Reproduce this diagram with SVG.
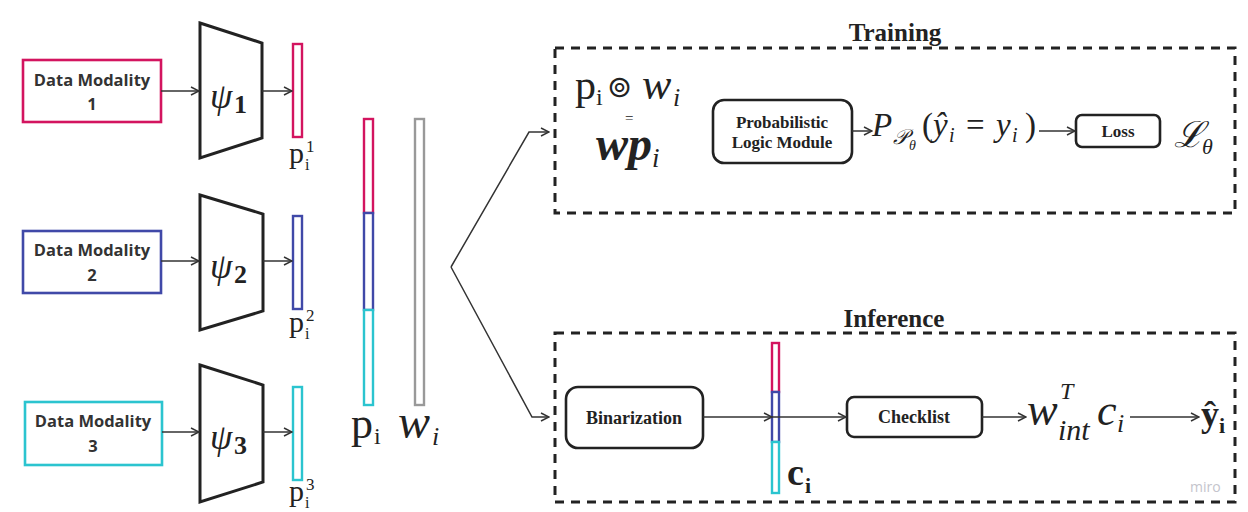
<svg xmlns="http://www.w3.org/2000/svg" width="1248" height="512" viewBox="0 0 1248 512">
<defs>
<marker id="arr" viewBox="0 0 10 10" refX="9" refY="5" markerWidth="10" markerHeight="10" markerUnits="userSpaceOnUse" orient="auto">
<path d="M1,1 L9,5 L1,9" fill="none" stroke="#333" stroke-width="1.5"/>
</marker>
</defs>
<style>
.dm{fill:#fff;stroke-width:2.6}
.mag{stroke:#d3145f}
.blu{stroke:#4049a8}
.cya{stroke:#2bc4cf}
.gry{stroke:#999}
.bar{fill:#fff;stroke-width:2.4}
.trap{fill:#fff;stroke:#222;stroke-width:3}
.dmt{font-family:"Open Sans","DejaVu Sans",sans-serif;font-weight:700;font-size:16.5px;fill:#333;text-anchor:middle}
.math{font-family:"Liberation Serif","DejaVu Serif",serif;fill:#222}
.it{font-style:italic}
.bf{font-weight:700}
.dash{fill:none;stroke:#222;stroke-width:3;stroke-dasharray:9 7}
.rb{fill:#fff;stroke:#222;stroke-width:2.6}
.lbl{font-family:"Liberation Serif","DejaVu Serif",serif;font-weight:700;fill:#222;text-anchor:middle}
.con{fill:none;stroke:#333;stroke-width:1.5}
</style>
<rect width="1248" height="512" fill="#fff"/>

<g id="modality1">
<rect class="dm mag" x="23" y="60" width="138" height="62"/>
<text class="dmt" x="92" y="86">Data Modality</text>
<text class="dmt" x="92" y="110">1</text>
</g>
<g id="modality2">
<rect class="dm blu" x="23" y="231" width="138" height="62"/>
<text class="dmt" x="92" y="256">Data Modality</text>
<text class="dmt" x="92" y="281">2</text>
</g>
<g id="modality3">
<rect class="dm cya" x="25" y="402" width="137" height="63"/>
<text class="dmt" x="93" y="427">Data Modality</text>
<text class="dmt" x="93" y="452">3</text>
</g>

<g id="encoder1">
<polygon class="trap" points="200,23 262,43 262,138 200,158"/>
<text class="math" y="108"><tspan class="it" x="210" font-size="36">ψ</tspan><tspan class="bf" x="234" y="113" font-size="26">1</tspan></text>
</g>
<g id="encoder2">
<polygon class="trap" points="200,195 263,214 263,311 200,330"/>
<text class="math" y="278"><tspan class="it" x="210" font-size="36">ψ</tspan><tspan class="bf" x="234" y="283" font-size="26">2</tspan></text>
</g>
<g id="encoder3">
<polygon class="trap" points="200,365 263,385 263,482 200,502"/>
<text class="math" y="449"><tspan class="it" x="210" font-size="36">ψ</tspan><tspan class="bf" x="234" y="454" font-size="26">3</tspan></text>
</g>

<g id="p1">
<rect class="bar mag" x="293" y="44" width="9" height="93"/>
<text class="math"><tspan x="289" y="163" font-size="30">p</tspan><tspan x="305" y="170" font-size="16">i</tspan><tspan x="306" y="152" font-size="17">1</tspan></text>
</g>
<g id="p2">
<rect class="bar blu" x="293" y="216" width="9" height="93"/>
<text class="math"><tspan x="289" y="332" font-size="30">p</tspan><tspan x="305" y="339" font-size="16">i</tspan><tspan x="306" y="321" font-size="17">2</tspan></text>
</g>
<g id="p3">
<rect class="bar cya" x="293" y="387" width="9" height="93"/>
<text class="math"><tspan x="289" y="501" font-size="30">p</tspan><tspan x="305" y="508" font-size="16">i</tspan><tspan x="306" y="490" font-size="17">3</tspan></text>
</g>

<g id="pi">
<rect class="bar mag" x="364" y="119" width="9" height="94"/>
<rect class="bar blu" x="364" y="213" width="9" height="97"/>
<rect class="bar cya" x="364" y="310" width="9" height="95"/>
<text class="math"><tspan x="351" y="438" font-size="44">p</tspan><tspan x="374" y="444" font-size="24">i</tspan></text>
</g>
<g id="wi">
<rect class="bar gry" x="415" y="119" width="9" height="286"/>
<text class="math it"><tspan x="398" y="438" font-size="48">w</tspan><tspan x="432" y="445" font-size="26">i</tspan></text>
</g>

<g id="training">
<rect class="dash" x="555" y="48" width="680" height="165"/>
<text class="lbl" x="895" y="41" font-size="25">Training</text>
</g>
<g id="product">
<text class="math"><tspan x="575" y="99" font-size="42">p</tspan><tspan x="596" y="105" font-size="24">i</tspan><tspan x="607" y="97" font-size="30" font-family="DejaVu Sans">⊚</tspan><tspan class="it" x="642" y="99" font-size="44">w</tspan><tspan class="it" x="673" y="106" font-size="26">i</tspan><tspan x="625" y="123" font-size="15">=</tspan></text>
<text class="math it bf"><tspan x="596" y="160" font-size="48">wp</tspan><tspan x="652" y="167" font-size="27" font-weight="400">i</tspan></text>
</g>
<g id="plm">
<rect class="rb" x="713" y="100" width="139" height="63" rx="11"/>
<text class="lbl" x="782" y="128" font-size="17">Probabilistic</text>
<text class="lbl" x="782" y="148" font-size="17">Logic Module</text>
</g>
<g id="prob">
<text class="math"><tspan class="it" x="872" y="136" font-size="33">P</tspan><tspan class="it" x="893" y="144" font-size="21" font-family="DejaVu Serif">𝒫</tspan><tspan class="it" x="909" y="150" font-size="14">θ</tspan><tspan x="922" y="136" font-size="33">(</tspan><tspan class="it" x="933" y="136" font-size="33">ŷ</tspan><tspan class="it" x="949" y="142" font-size="20">i</tspan><tspan x="966" y="136" font-size="33">=</tspan><tspan class="it" x="996" y="136" font-size="33">y</tspan><tspan class="it" x="1012" y="142" font-size="20">i</tspan><tspan x="1025" y="136" font-size="33">)</tspan></text>
</g>
<g id="loss">
<rect class="rb" x="1076" y="115" width="84" height="32" rx="6"/>
<text class="lbl" x="1118" y="137" font-size="17">Loss</text>
</g>
<g id="lossval">
<text class="math"><tspan x="1174" y="147" font-size="36" font-family="DejaVu Serif" font-style="italic">ℒ</tspan><tspan class="it" x="1202" y="154" font-size="22">θ</tspan></text>
</g>

<g id="inference">
<rect class="dash" x="555" y="333" width="680" height="169"/>
<text class="lbl" x="894" y="327" font-size="25">Inference</text>
</g>
<g id="binarization">
<rect class="rb" x="566" y="387" width="137" height="61" rx="12"/>
<text class="lbl" x="634" y="424" font-size="18">Binarization</text>
</g>
<g id="ci">
<rect class="bar mag" x="772" y="343" width="7" height="49"/>
<rect class="bar blu" x="772" y="392" width="7" height="50"/>
<rect class="bar cya" x="772" y="442" width="7" height="51"/>
<text class="math bf"><tspan x="787" y="485" font-size="38">c</tspan><tspan x="805" y="493" font-size="22">i</tspan></text>
</g>
<g id="checklist">
<rect class="rb" x="847" y="397" width="135" height="40" rx="7"/>
<text class="lbl" x="914" y="423" font-size="18">Checklist</text>
</g>
<g id="score">
<text class="math it"><tspan x="1027" y="425" font-size="46">w</tspan><tspan x="1060" y="399" font-size="24">T</tspan><tspan x="1058" y="440" font-size="30">int</tspan><tspan x="1097" y="425" font-size="44">c</tspan><tspan x="1117" y="432" font-size="26">i</tspan></text>
</g>
<g id="yhat">
<text class="math bf"><tspan x="1201" y="426" font-size="36">ŷ</tspan><tspan x="1219" y="433" font-size="22">i</tspan></text>
</g>
<text x="1190" y="492" font-family="Open Sans, DejaVu Sans, sans-serif" font-size="14" fill="#c4c4cc">miro</text>

<g id="connectors">
<line class="con" x1="161" y1="91" x2="199" y2="91" marker-end="url(#arr)"/>
<line class="con" x1="262" y1="91" x2="292" y2="91" marker-end="url(#arr)"/>
<line class="con" x1="161" y1="261" x2="199" y2="261" marker-end="url(#arr)"/>
<line class="con" x1="263" y1="261" x2="292" y2="261" marker-end="url(#arr)"/>
<line class="con" x1="162" y1="432" x2="199" y2="432" marker-end="url(#arr)"/>
<line class="con" x1="263" y1="432" x2="292" y2="432" marker-end="url(#arr)"/>
<polyline class="con" points="451,267 529,132 549,132" marker-end="url(#arr)"/>
<polyline class="con" points="451,267 532,417 549,417" marker-end="url(#arr)"/>
<line class="con" x1="852" y1="131" x2="872" y2="131" marker-end="url(#arr)"/>
<line class="con" x1="1039" y1="131" x2="1075" y2="131" marker-end="url(#arr)"/>
<line class="con" x1="703" y1="417" x2="772" y2="417" marker-end="url(#arr)"/>
<line class="con" x1="772" y1="417" x2="846" y2="417" marker-end="url(#arr)"/>
<line class="con" x1="982" y1="417" x2="1026" y2="417" marker-end="url(#arr)"/>
<line class="con" x1="1130" y1="417" x2="1199" y2="417" marker-end="url(#arr)"/>
</g>
</svg>
